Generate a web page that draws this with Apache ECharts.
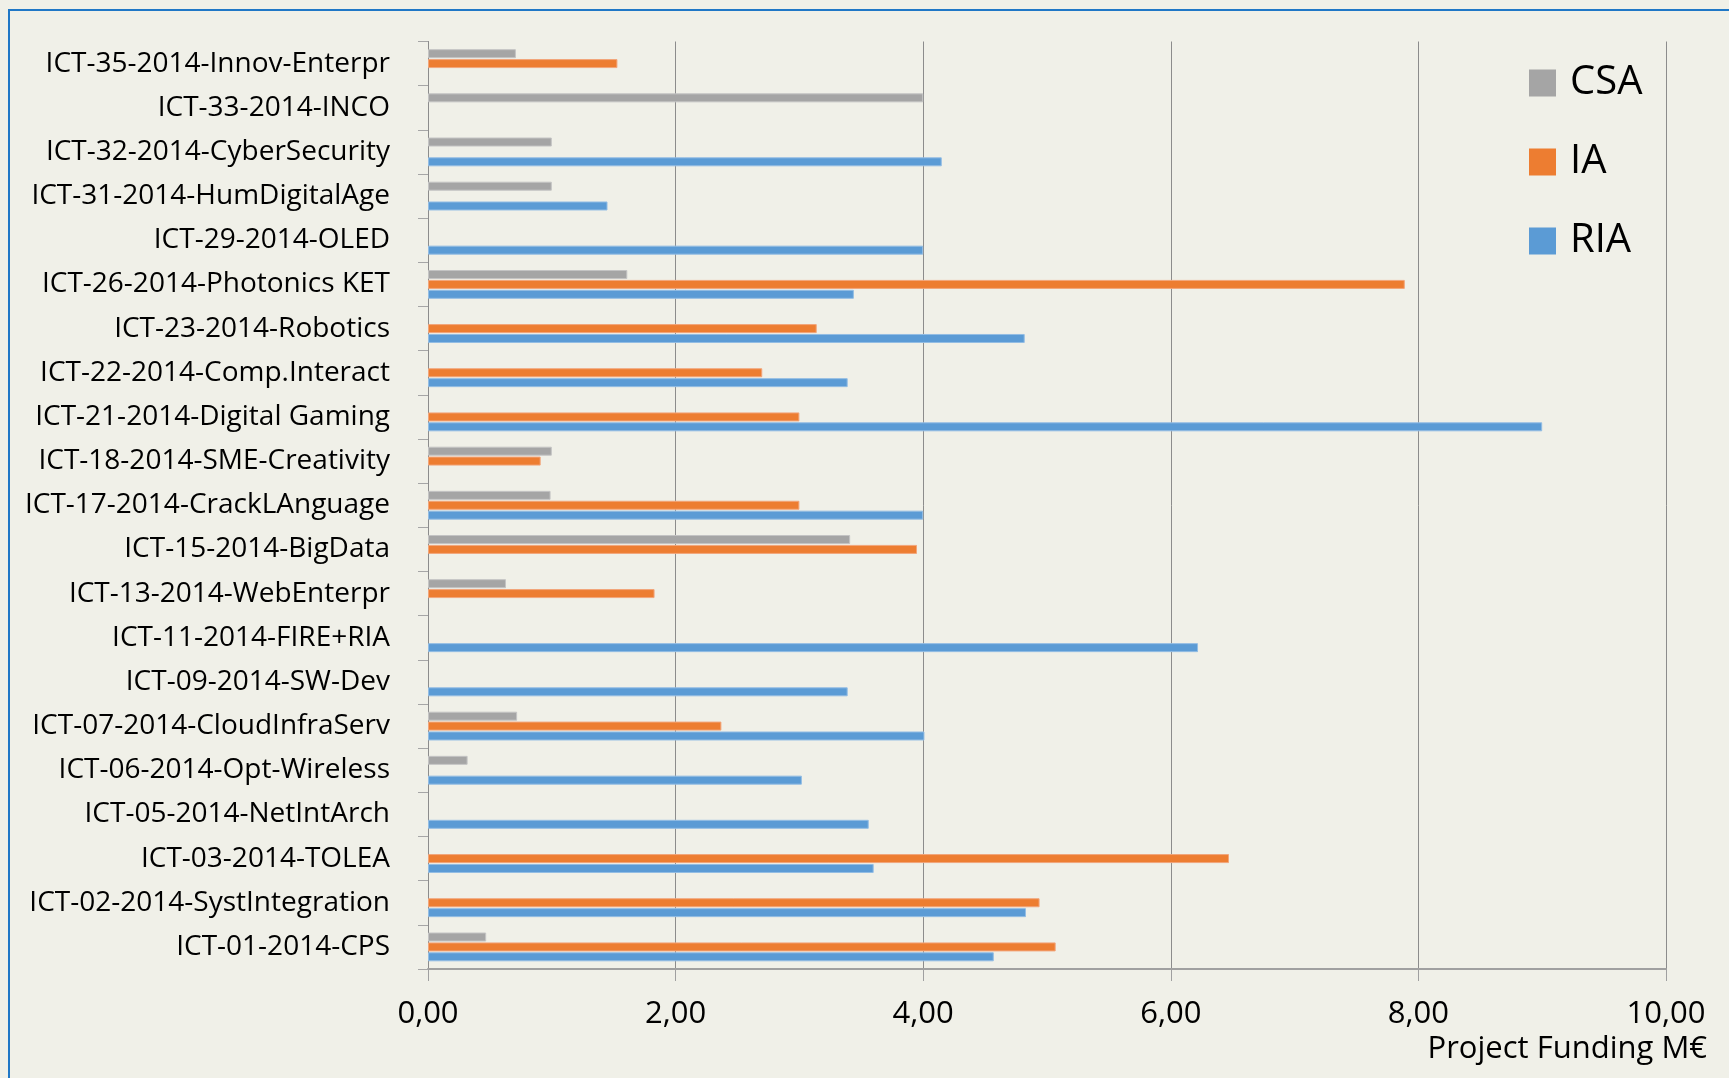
<!DOCTYPE html>
<html>
<head>
<meta charset="utf-8">
<title>Project Funding</title>
<script src="https://cdn.jsdelivr.net/npm/echarts@6/dist/echarts.min.js"></script>
<style>
  html, body { margin: 0; padding: 0; background: #f0f0e8; }
  #chart { width: 1729px; height: 1078px; }
</style>
</head>
<body>
<div id="chart"></div>
<script>
// topics, listed top to bottom as in the picture
var categories = [
  'ICT-35-2014-Innov-Enterpr', 'ICT-33-2014-INCO', 'ICT-32-2014-CyberSecurity',
  'ICT-31-2014-HumDigitalAge', 'ICT-29-2014-OLED', 'ICT-26-2014-Photonics KET',
  'ICT-23-2014-Robotics', 'ICT-22-2014-Comp.Interact', 'ICT-21-2014-Digital Gaming',
  'ICT-18-2014-SME-Creativity', 'ICT-17-2014-CrackLAnguage', 'ICT-15-2014-BigData',
  'ICT-13-2014-WebEnterpr', 'ICT-11-2014-FIRE+RIA', 'ICT-09-2014-SW-Dev',
  'ICT-07-2014-CloudInfraServ', 'ICT-06-2014-Opt-Wireless', 'ICT-05-2014-NetIntArch',
  'ICT-03-2014-TOLEA', 'ICT-02-2014-SystIntegration', 'ICT-01-2014-CPS'
];
var csa = [0.71, 4.00, 1.00, 1.00, null, 1.61, null, null, null, 1.00, 0.99,
           3.41, 0.63, null, null, 0.72, 0.32, null, null, null, 0.47];
var ia  = [1.53, null, null, null, null, 7.89, 3.14, 2.70, 3.00, 0.91, 3.00,
           3.95, 1.83, null, null, 2.37, null, null, 6.47, 4.94, 5.07];
var ria = [null, null, 4.15, 1.45, 4.00, 3.44, 4.82, 3.39, 9.00, null, 4.00,
           null, null, 6.22, 3.39, 4.01, 3.02, 3.56, 3.60, 4.83, 4.57];
var xTicks = [0, 2, 4, 6, 8, 10];
var axisTitle = 'Project Funding M€';

var font = 'Open Sans';
var myChart = echarts.init(document.getElementById('chart'));

function barSeries(name, data, color, border) {
  return {
    name: name,
    type: 'bar',
    data: data,
    barWidth: 9,
    barGap: '10%',
    itemStyle: { color: color, borderColor: border, borderWidth: 1 }
  };
}

var option = {
  backgroundColor: '#f0f0e8',
  animation: false,
  textStyle: { fontFamily: font, color: '#000' },
  graphic: [{
    type: 'rect',
    shape: { x: 9, y: 10, width: 1800, height: 1200 },
    style: { fill: 'none', stroke: '#1f77c6', lineWidth: 2 },
    silent: true
  }, {
    // axis title under the tick labels, right aligned
    type: 'text',
    x: 1707,
    y: 1034,
    style: {
      text: axisTitle,
      fill: '#000',
      font: '31px "Open Sans"',
      textAlign: 'right',
      textVerticalAlign: 'top'
    },
    silent: true
  }],
  legend: {
    orient: 'vertical',
    left: 1529,
    top: 63,
    padding: 0,
    icon: 'rect',
    itemWidth: 27,
    itemHeight: 27,
    itemGap: 39,
    itemStyle: { borderWidth: 0 },
    textStyle: { fontFamily: font, fontSize: 40, lineHeight: 40, color: '#000', padding: [0, 0, 0, 9] },
    data: ['CSA', 'IA', 'RIA']
  },
  grid: { left: 428, right: 63, top: 41.5, bottom: 109, containLabel: false, outerBoundsMode: 'none' },
  xAxis: {
    type: 'value',
    min: 0,
    max: 10,
    interval: 2,
    axisLine: { show: true, lineStyle: { color: '#a0a0a0', width: 2 } },
    axisTick: { show: true, length: 12, lineStyle: { color: '#a0a0a0' } },
    axisLabel: {
      margin: 30,
      fontSize: 31,
      color: '#000',
      fontFamily: font,
      formatter: function (v) {
        if (xTicks.indexOf(v) < 0) return '';
        return v.toFixed(2).replace('.', ',');
      }
    },
    splitLine: { show: true, lineStyle: { color: '#8c8c8c', width: 1 } }
  },
  yAxis: {
    type: 'category',
    inverse: true,
    data: categories,
    axisLine: { show: true, lineStyle: { color: '#8c8c8c', width: 1 } },
    axisTick: { show: true, length: 10, lineStyle: { color: '#a6a6a6' } },
    axisLabel: { margin: 38, fontSize: 28, color: '#000', fontFamily: font },
    splitLine: { show: false }
  },
  series: [
    barSeries('CSA', csa, '#a5a5a5', '#c4c4c4'),
    barSeries('IA', ia, '#ed7d31', '#f2a57a'),
    barSeries('RIA', ria, '#5b9bd5', '#93bde4')
  ]
};

myChart.setOption(option);
</script>
</body>
</html>
